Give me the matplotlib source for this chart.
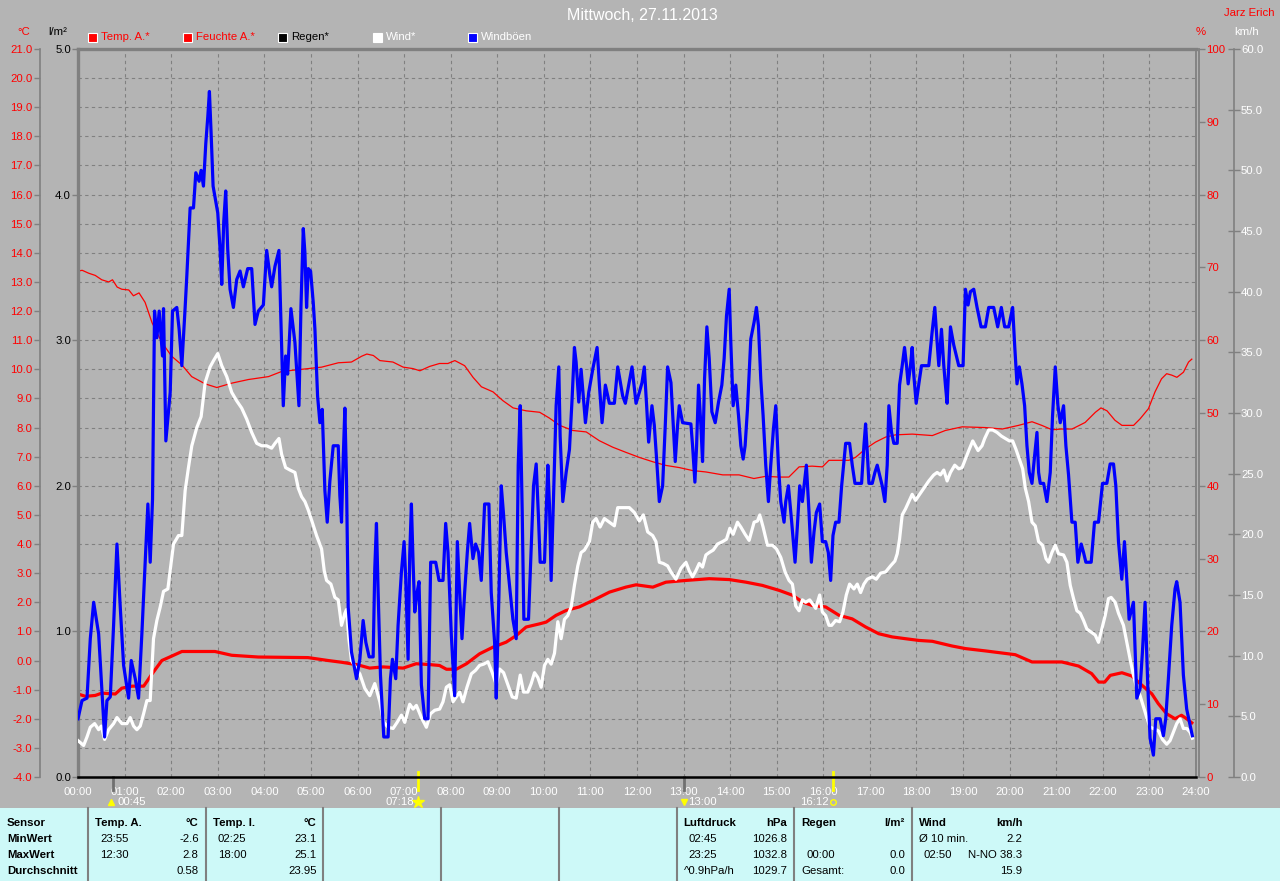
#!/usr/bin/env python3
"""
Weather station day plot (Mittwoch, 27.11.2013) with a statistics table below.
Output: out.png (1280x881)
"""

import matplotlib
matplotlib.use("Agg")
import matplotlib.pyplot as plt
import matplotlib.patches as mpatches
from matplotlib.ticker import FormatStrFormatter

plt.rcParams["font.family"] = ["Liberation Sans", "DejaVu Sans"]

# ── Data (hours of day → values) ─────────────────────────────────────────────
GUST_HOURS = [
    0.000, 0.086, 0.193, 0.264, 0.336, 0.443, 0.514, 0.571, 0.621, 0.693, 0.764, 0.836, 0.907, 0.979,
    1.086, 1.143, 1.229, 1.300, 1.371, 1.443, 1.500, 1.550, 1.600, 1.643, 1.693, 1.743, 1.814, 1.836,
    1.886, 1.979, 2.029, 2.121, 2.171, 2.229, 2.300, 2.336, 2.407, 2.479, 2.529, 2.600, 2.643, 2.693,
    2.743, 2.786, 2.821, 2.857, 2.900, 3.000, 3.050, 3.086, 3.129, 3.171, 3.214, 3.264, 3.336, 3.407,
    3.479, 3.550, 3.643, 3.729, 3.800, 3.871, 3.979, 4.050, 4.121, 4.157, 4.229, 4.314, 4.357, 4.407,
    4.457, 4.500, 4.571, 4.657, 4.743, 4.786, 4.836, 4.871, 4.907, 4.943, 4.993, 5.050, 5.086, 5.143,
    5.193, 5.243, 5.300, 5.350, 5.407, 5.479, 5.586, 5.621, 5.657, 5.693, 5.729, 5.764, 5.800, 5.871,
    5.979,
    6.050, 6.121, 6.179, 6.250, 6.336, 6.371, 6.407, 6.443, 6.493, 6.564, 6.657, 6.707, 6.750, 6.821,
    6.871, 6.943, 7.000, 7.036, 7.086, 7.121, 7.157, 7.193, 7.229, 7.279, 7.321, 7.371, 7.443, 7.514,
    7.571, 7.679, 7.750, 7.836, 7.893, 7.943, 8.014, 8.086, 8.143, 8.193, 8.243, 8.300, 8.357, 8.407,
    8.479, 8.536, 8.600, 8.657, 8.729, 8.821, 8.871, 8.943, 8.979, 9.036, 9.086, 9.136, 9.193, 9.264,
    9.336, 9.407, 9.450, 9.493, 9.536, 9.571, 9.671, 9.729, 9.779, 9.836, 9.886, 9.921, 10.014, 10.086,
    10.121, 10.157, 10.207, 10.264, 10.321, 10.350, 10.407, 10.479, 10.550, 10.607, 10.657, 10.693,
    10.750, 10.800, 10.893, 10.964, 11.050, 11.143, 11.193, 11.250, 11.321, 11.407, 11.514, 11.586,
    11.693, 11.750, 11.893, 11.979,
    12.050, 12.107, 12.157, 12.207, 12.250, 12.321, 12.371, 12.421, 12.479, 12.550, 12.607, 12.657,
    12.729, 12.779, 12.821, 12.871, 12.907, 12.979, 13.157, 13.193, 13.243, 13.279, 13.321, 13.371,
    13.407, 13.450, 13.500, 13.550, 13.607, 13.679, 13.750, 13.821, 13.871, 13.921, 13.979, 14.014,
    14.064, 14.121, 14.179, 14.229, 14.279, 14.321, 14.371, 14.443, 14.514, 14.564, 14.607, 14.657,
    14.707, 14.764, 14.821, 14.871, 14.929, 14.979, 15.036, 15.086, 15.157, 15.193, 15.250, 15.321,
    15.393, 15.443, 15.493, 15.550, 15.586, 15.636, 15.693, 15.743, 15.800, 15.850, 15.921, 15.979,
    16.050, 16.107, 16.157, 16.207, 16.264, 16.336, 16.393, 16.479, 16.564, 16.621, 16.679, 16.821,
    16.871, 16.907, 16.943, 16.979, 17.050, 17.107, 17.157, 17.207, 17.264, 17.321, 17.371, 17.407,
    17.464, 17.514, 17.586, 17.636, 17.693, 17.743, 17.786, 17.821, 17.871, 17.907, 17.943, 17.993,
    18.050, 18.107, 18.264, 18.336, 18.393, 18.443, 18.479, 18.536, 18.586, 18.621, 18.657, 18.729,
    18.800, 18.907, 19.000, 19.050, 19.107, 19.157, 19.229, 19.300, 19.386, 19.479, 19.550, 19.657,
    19.743, 19.821, 19.893, 19.979, 20.064, 20.107, 20.157, 20.207, 20.264, 20.321, 20.371, 20.421,
    20.479, 20.536, 20.586, 20.621, 20.657, 20.729, 20.800, 20.871, 20.921, 20.979, 21.036, 21.086,
    21.157, 21.207, 21.264, 21.336, 21.407, 21.464, 21.536, 21.586, 21.636, 21.750, 21.821, 21.907,
    21.993, 22.086, 22.157, 22.229, 22.279, 22.336, 22.407, 22.464, 22.514, 22.564, 22.657, 22.729,
    22.800, 22.850, 22.907, 22.964, 23.014, 23.086, 23.136, 23.229, 23.300, 23.350, 23.407, 23.479,
    23.550, 23.586, 23.657, 23.729, 23.800, 23.871, 23.921,
]
GUST_KMH = [
    4.8, 6.3, 6.5, 11.4, 14.4, 11.8, 7.0, 3.3, 6.3, 6.6, 12.5, 19.2, 14.0, 9.2,
    6.5, 9.6, 8.1, 6.5, 11.8, 17.7, 22.5, 17.7, 22.9, 38.4, 36.2, 38.4, 34.7, 38.6,
    27.7, 31.7, 38.4, 38.7, 36.9, 33.9, 38.7, 41.3, 46.9, 46.9, 49.8, 49.1, 50.0, 48.7,
    52.2, 54.4, 56.5, 53.1, 48.7, 46.5, 43.5, 40.6, 45.8, 48.3, 43.5, 40.2, 38.7, 41.0,
    41.7, 40.4, 41.9, 41.9, 37.3, 38.4, 38.9, 43.4, 41.3, 40.4, 42.1, 43.4, 37.6, 30.6,
    34.7, 33.2, 38.6, 35.8, 30.6, 38.7, 45.2, 43.2, 38.7, 41.9, 41.7, 39.1, 36.9, 31.4,
    29.2, 30.3, 23.6, 21.0, 24.4, 27.3, 27.3, 23.2, 21.0, 26.2, 30.4, 24.4, 14.0, 10.3,
    8.1,
    9.7, 12.9, 11.1, 9.9, 9.9, 17.2, 20.9, 15.2, 8.4, 3.3, 3.3, 8.1, 9.7, 8.1,
    12.5, 16.9, 19.4, 16.3, 9.7, 18.3, 22.5, 17.7, 13.6, 15.2, 16.1, 7.6, 4.8, 4.8,
    17.7, 17.7, 16.2, 16.2, 20.9, 18.5, 11.7, 6.7, 19.4, 15.2, 11.4, 15.2, 18.5, 20.9,
    18.0, 19.2, 18.5, 16.2, 22.5, 22.5, 15.2, 11.1, 6.5, 15.0, 24.0, 21.6, 18.5, 15.8,
    13.0, 11.4, 25.7, 30.6, 21.8, 13.0, 13.0, 18.8, 24.0, 25.8, 21.3, 17.7, 17.7, 25.7,
    22.4, 16.2, 22.9, 30.6, 33.8, 28.1, 22.7, 25.1, 27.0, 31.2, 35.4, 34.2,
    30.9, 33.6, 29.2, 31.7, 33.6, 35.4, 32.3, 29.2, 32.3, 30.8, 30.8, 33.8,
    31.4, 30.8, 33.8, 30.8,
    31.7, 32.5, 33.8, 30.6, 27.6, 30.6, 29.0, 26.2, 22.7, 24.0, 29.0, 33.8,
    32.5, 29.0, 26.0, 29.0, 30.6, 29.2, 29.1, 27.3, 24.3, 27.3, 32.3, 29.0,
    26.0, 32.8, 37.1, 34.5, 30.1, 29.2, 30.9, 32.3, 34.5, 38.0, 40.2, 35.8,
    30.6, 32.3, 29.8, 27.3, 26.2, 27.3, 30.3, 36.1, 37.5, 38.7, 37.2, 32.8,
    29.8, 25.7, 22.7, 25.7, 28.7, 30.6, 25.7, 22.7, 21.0, 22.7, 24.0, 21.0,
    17.7, 20.7, 24.0, 22.7, 24.0, 25.7, 21.8, 17.7, 20.2, 21.8, 22.5, 19.4,
    19.4, 18.5, 16.2, 19.9, 21.0, 21.0, 24.0, 27.5, 27.5, 25.7, 24.2, 24.2,
    27.3, 29.1, 26.8, 24.2, 24.2, 25.1, 25.7, 24.9, 24.0, 22.7, 25.7, 30.6,
    28.4, 27.5, 27.5, 32.3, 33.9, 35.4, 33.9, 32.4, 33.9, 35.4, 33.1, 30.8,
    32.4, 33.9, 33.9, 36.7, 38.7, 35.8, 33.9, 36.9, 33.9, 32.3, 30.8, 37.1,
    35.6, 33.9, 33.9, 40.2, 38.9, 40.0, 40.2, 38.7, 37.1, 37.1, 38.7, 38.7,
    37.1, 38.7, 37.1, 37.1, 38.7, 35.6, 32.4, 33.8, 32.4, 30.6, 27.3, 25.1,
    24.2, 26.5, 28.4, 25.1, 24.2, 24.2, 22.7, 25.1, 29.8, 33.8, 30.6, 29.2,
    30.6, 27.3, 24.9, 21.0, 21.0, 17.7, 19.2, 18.5, 17.7, 17.7, 21.0, 21.0,
    24.2, 24.2, 25.8, 25.8, 24.0, 19.4, 16.3, 19.4, 16.3, 13.0, 14.4, 6.5,
    7.3, 10.3, 14.4, 7.6, 3.2, 1.8, 4.8, 4.8, 3.4, 4.8, 8.1, 12.5,
    15.5, 16.1, 14.4, 8.4, 5.6, 4.3, 3.4,
]

WIND_HOURS = [
    0.000, 0.121, 0.193, 0.264, 0.357, 0.443, 0.500, 0.571, 0.657, 0.764, 0.836, 0.943, 1.050, 1.121,
    1.193, 1.264, 1.336, 1.407, 1.479, 1.550, 1.621, 1.693, 1.764, 1.836, 1.929, 1.979, 2.050, 2.157,
    2.229, 2.300, 2.371, 2.443, 2.550, 2.643, 2.729, 2.836, 2.907, 3.000, 3.086, 3.193, 3.300, 3.407,
    3.514, 3.621, 3.729, 3.836, 3.943, 4.050, 4.157, 4.229, 4.314, 4.371, 4.457, 4.550, 4.657, 4.729,
    4.800, 4.871, 4.943, 5.029, 5.121, 5.229, 5.286, 5.336, 5.429, 5.514, 5.586, 5.657, 5.729, 5.764,
    5.814, 5.871, 5.979,
    6.050, 6.157, 6.264, 6.371, 6.479, 6.564, 6.657, 6.764, 6.850, 6.943, 7.014, 7.121, 7.193, 7.264,
    7.371, 7.479, 7.564, 7.657, 7.764, 7.836, 7.907, 7.979, 8.050, 8.121, 8.193, 8.264, 8.350, 8.443,
    8.536, 8.621, 8.707, 8.800, 8.893, 8.979, 9.050, 9.136, 9.229, 9.321, 9.407, 9.493, 9.564, 9.657,
    9.729, 9.800, 9.871, 9.943, 10.014, 10.086, 10.157, 10.229, 10.300, 10.371, 10.443, 10.514,
    10.586, 10.657, 10.729, 10.800, 10.871, 10.979, 11.050, 11.121, 11.207, 11.300, 11.407, 11.514,
    11.586, 11.693, 11.836, 11.943,
    12.050, 12.136, 12.229, 12.336, 12.407, 12.479, 12.564, 12.657, 12.729, 12.836, 12.943, 13.050,
    13.121, 13.193, 13.264, 13.336, 13.407, 13.479, 13.550, 13.636, 13.729, 13.836, 13.921, 13.993,
    14.064, 14.157, 14.229, 14.321, 14.407, 14.514, 14.586, 14.636, 14.707, 14.800, 14.907, 14.993,
    15.086, 15.179, 15.264, 15.336, 15.407, 15.479, 15.550, 15.621, 15.707, 15.764, 15.836, 15.921,
    15.979, 16.050, 16.121, 16.179, 16.264, 16.350, 16.421, 16.493, 16.564, 16.657, 16.729, 16.800,
    16.871, 16.943, 17.050, 17.136, 17.229, 17.336, 17.443, 17.536, 17.586, 17.636, 17.693, 17.764,
    17.836, 17.907, 17.979,
    18.050, 18.157, 18.264, 18.371, 18.443, 18.514, 18.586, 18.657, 18.729, 18.821, 18.907, 18.979,
    19.050, 19.121, 19.207, 19.264, 19.321, 19.407, 19.464, 19.550, 19.636, 19.729, 19.821, 19.907,
    19.993, 20.064, 20.136, 20.207, 20.279, 20.336, 20.407, 20.479, 20.550, 20.621, 20.707, 20.779,
    20.836, 20.907, 20.979, 21.050, 21.157, 21.229, 21.300, 21.371, 21.443, 21.514, 21.586, 21.657,
    21.764, 21.836, 21.907, 21.979, 22.050, 22.121, 22.179, 22.264, 22.336, 22.443, 22.514, 22.586,
    22.657, 22.729, 22.800, 22.871, 22.943, 23.014, 23.086, 23.193, 23.279, 23.371, 23.443, 23.514,
    23.586, 23.657, 23.729, 23.800, 23.871, 23.921,
]
WIND_KMH = [
    3.0, 2.6, 3.3, 4.1, 4.4, 3.9, 4.2, 3.1, 3.9, 4.4, 4.9, 4.4, 4.4, 4.9,
    4.2, 3.9, 4.2, 5.2, 6.3, 6.3, 11.4, 12.9, 14.0, 15.3, 15.5, 17.0, 19.2, 19.9,
    19.9, 23.6, 25.5, 27.3, 28.8, 29.7, 32.5, 33.8, 34.3, 34.9, 33.9, 33.0, 31.7, 31.0,
    30.4, 29.5, 28.4, 27.5, 27.3, 27.3, 27.1, 27.5, 27.9, 26.6, 25.5, 25.3, 25.1, 23.8,
    23.1, 22.7, 22.0, 21.0, 19.9, 18.8, 17.0, 16.2, 15.9, 14.8, 14.6, 12.5, 13.5, 13.8,
    11.4, 9.6, 8.9,
    8.5, 7.3, 6.7, 7.7, 6.2, 4.5, 4.1, 4.0, 4.5, 5.1, 4.5, 6.0, 5.6, 5.9,
    4.9, 4.1, 5.2, 5.5, 5.6, 6.2, 7.4, 7.6, 6.2, 6.6, 7.0, 6.2, 7.4, 8.5,
    8.8, 9.2, 9.3, 9.5, 8.6, 7.6, 8.9, 8.6, 7.6, 6.6, 6.5, 8.4, 7.0, 7.0,
    7.7, 8.6, 8.2, 7.4, 9.2, 9.7, 9.3, 10.2, 12.8, 11.4, 13.0, 13.3,
    14.0, 15.8, 17.4, 18.5, 18.7, 19.4, 21.0, 21.3, 20.6, 21.3, 21.0, 20.7,
    22.2, 22.2, 22.2, 21.8,
    21.1, 21.6, 20.2, 19.9, 19.4, 17.7, 17.6, 17.4, 16.9, 16.3, 17.2, 17.7,
    17.0, 16.5, 17.0, 17.6, 17.3, 18.3, 18.5, 18.7, 19.2, 19.4, 19.6, 20.5,
    20.0, 21.0, 20.6, 20.0, 19.5, 21.0, 21.1, 21.6, 20.6, 19.1, 19.1, 18.8,
    18.1, 16.9, 16.2, 15.9, 14.1, 13.7, 14.6, 14.4, 14.6, 14.3, 13.9, 15.0,
    13.6, 13.3, 12.5, 12.5, 12.9, 12.8, 13.6, 15.0, 15.9, 15.5, 15.9, 15.2,
    15.9, 16.3, 16.5, 16.3, 16.8, 16.9, 17.4, 17.8, 18.4, 19.6, 21.6, 22.1,
    22.7, 23.3, 22.8,
    23.2, 23.8, 24.4, 24.9, 25.1, 24.9, 25.3, 24.4, 25.1, 25.7, 25.4, 25.5,
    26.2, 26.9, 27.7, 27.3, 26.9, 27.3, 27.9, 28.6, 28.6, 28.4, 28.1, 27.9,
    27.7, 27.7, 27.0, 26.2, 25.4, 23.8, 22.7, 21.0, 20.7, 19.4, 19.1, 18.0,
    17.7, 18.5, 19.1, 18.4, 18.3, 17.7, 15.8, 14.7, 13.7, 13.5, 12.9, 12.2,
    11.9, 11.7, 11.1, 12.2, 13.3, 14.7, 14.8, 14.4, 13.5, 12.5, 11.1, 9.7,
    8.4, 7.3, 6.7, 5.8, 4.9, 4.1, 4.0, 3.8, 3.1, 2.7, 3.0, 3.7,
    4.4, 4.8, 4.0, 4.0, 3.7, 3.2,
]

TEMP_HOURS = [
    0.00, 0.16, 0.37, 0.51, 0.80, 0.94, 1.16, 1.41, 1.59, 1.80, 2.01, 2.23, 2.51, 2.94, 3.30, 3.87,
    4.94, 5.37, 5.66, 6.01, 6.26, 6.55, 6.98, 7.26, 7.55, 7.76, 7.91, 8.12, 8.34, 8.62, 8.91, 9.19,
    9.41, 9.62, 9.91, 10.05, 10.26, 10.48, 10.76, 11.05, 11.41, 11.76, 11.98, 12.34, 12.62, 13.05,
    13.55, 13.98, 14.34, 14.69, 15.05, 15.34, 15.55, 15.76, 16.05, 16.34, 16.62, 16.91, 17.19, 17.48,
    17.76, 18.05, 18.34, 18.76, 19.05, 19.48, 20.12, 20.48, 20.76, 21.12, 21.48, 21.76, 21.91, 22.04,
    22.16, 22.41, 22.62, 22.84, 23.05, 23.19, 23.37, 23.55, 23.69, 23.80, 23.91,
]
TEMP_C = [
    -1.15, -1.23, -1.20, -1.12, -1.15, -0.95, -0.88, -0.88, -0.46, 0.00, 0.15, 0.31, 0.31, 0.31, 0.18, 0.12,
    0.10, 0.00, -0.06, -0.15, -0.26, -0.22, -0.26, -0.11, -0.14, -0.17, -0.30, -0.30, -0.11, 0.23, 0.46, 0.63,
    0.86, 1.15, 1.26, 1.32, 1.55, 1.72, 1.84, 2.06, 2.35, 2.52, 2.60, 2.52, 2.69, 2.75,
    2.81, 2.78, 2.69, 2.58, 2.41, 2.24, 2.01, 1.89, 1.84, 1.55, 1.43, 1.15, 0.92, 0.81,
    0.75, 0.69, 0.66, 0.50, 0.41, 0.33, 0.20, -0.05, -0.05, -0.05, -0.19, -0.45, -0.74, -0.74,
    -0.51, -0.42, -0.53, -0.85, -1.14, -1.48, -1.83, -2.00, -1.88, -2.00, -2.14,
]

HUM_HOURS = [
    0.00, 0.09, 0.23, 0.37, 0.51, 0.66, 0.74, 0.84, 0.94, 1.09, 1.19, 1.31, 1.44, 1.59, 1.80, 2.01,
    2.23, 2.44, 2.73, 2.98, 3.30, 3.66, 4.09, 4.37, 4.80, 5.23, 5.59, 5.87, 6.09, 6.20, 6.34, 6.48,
    6.76, 6.98, 7.19, 7.34, 7.55, 7.76, 7.94, 8.09, 8.30, 8.48, 8.66, 8.91, 9.12, 9.34, 9.62, 9.91,
    10.12, 10.34, 10.62, 10.91, 11.19, 11.48, 11.76, 12.05, 12.34, 12.62, 12.91, 13.19, 13.48, 13.84,
    14.19, 14.51, 14.76, 15.05, 15.26, 15.48, 15.76, 15.98, 16.12, 16.34, 16.55, 16.69, 16.91, 17.12,
    17.34, 17.55, 17.91, 18.34, 18.62, 18.98, 19.48, 19.84, 20.19, 20.48, 20.69, 20.91, 21.12, 21.34,
    21.62, 21.84, 21.96, 22.09, 22.26, 22.41, 22.66, 22.80, 22.98, 23.12, 23.26, 23.37, 23.48, 23.59,
    23.73, 23.84, 23.91,
]
HUM_PCT = [
    69.5, 69.6, 69.2, 68.9, 68.3, 68.0, 68.3, 67.3, 67.0, 66.9, 66.1, 66.5, 65.2, 62.4, 59.7, 57.8,
    56.6, 55.0, 54.0, 53.5, 54.1, 54.6, 55.0, 55.7, 56.0, 56.3, 56.9, 57.0, 57.8, 58.1, 57.9, 57.2,
    57.0, 56.3, 56.1, 55.8, 56.4, 56.8, 56.8, 57.2, 56.5, 54.9, 53.6, 52.9, 51.7, 50.7, 50.3, 50.1,
    49.3, 48.3, 47.6, 47.4, 46.2, 45.3, 44.6, 43.9, 43.3, 42.8, 42.5, 42.1, 41.9, 41.5,
    41.5, 41.0, 41.3, 41.2, 41.2, 42.6, 42.7, 42.6, 43.5, 43.5, 43.5, 43.9, 45.1, 46.0,
    46.7, 47.0, 47.1, 46.9, 47.6, 48.1, 48.0, 47.8, 48.3, 48.8, 48.3, 47.7, 47.8, 47.8,
    48.7, 50.1, 50.7, 50.3, 49.0, 48.3, 48.3, 49.2, 50.6, 52.9, 54.7, 55.4, 55.2, 54.9,
    55.6, 57.0, 57.4,
]

RAIN_HOURS = [0.0, 24.0]
RAIN_MM = [0.0, 0.0]

HOUR_LABELS = [f"{h:02d}:00" for h in range(25)]
EVENT_HOURS = [0.75, 7.3, 13.0, 16.2]
EVENT_LABELS = ["00:45", "07:18", "13:00", "16:12"]

LEGEND_LABELS = ["Temp. A.*", "Feuchte A.*", "Regen*", "Wind*", "Windböen"]

TABLE_ROW_LABELS = ["Sensor", "MinWert", "MaxWert", "Durchschnitt"]
TABLE_BLOCKS = [
    # (column index, header, unit, [(time, value) per row])
    (0, "Temp. A.", "°C", [("23:55", "-2.6"), ("12:30", "2.8"), ("", "0.58")]),
    (1, "Temp. I.", "°C", [("02:25", "23.1"), ("18:00", "25.1"), ("", "23.95")]),
    (5, "Luftdruck", "hPa", [(" 02:45", "1026.8"), (" 23:25", "1032.8"), ("^0.9hPa/h", "1029.7")]),
    (6, "Regen", "l/m²", [("", ""), ("  00:00", "0.0"), ("Gesamt:", "0.0")]),
    (7, "Wind", "km/h", [("Ø 10 min.", "2.2"), ("  02:50", "N-NO 38.3"), ("", "15.9")]),
]

# ── Style ─────────────────────────────────────────────────────────────────────
W, H = 1280, 881
BG = "#B4B4B4"
GRID = "#808080"
CYAN = "#CDF9F8"
RED = "#FF0000"
BLUE = "#0000FF"
FS = 8.2


def fx(x):
    return x / W


def fy(y):
    return 1 - y / H


fig = plt.figure(figsize=(W / 100, H / 100), dpi=100, facecolor=BG)

L, R, T, B = 78, 1196, 49, 777
ax = fig.add_axes([fx(L), fy(B), (R - L) / W, (B - T) / H])
ax.set_facecolor(BG)
ax.set_xlim(0, 24)
ax.set_ylim(-4, 21)

ax_h = ax.twinx()
ax_r = ax.twinx()
ax_w = ax.twinx()
ax_h.set_ylim(0, 100)
ax_r.set_ylim(0, 5)
ax_w.set_ylim(0, 60)

for a in (ax, ax_h, ax_r, ax_w):
    for s in a.spines.values():
        s.set_visible(False)

# ── Temperature axis (outer left) ─────────────────────────────────────────────
ax.spines["left"].set_visible(True)
ax.spines["left"].set_position(("axes", (40 - L) / (R - L)))
ax.spines["left"].set_color(GRID)
ax.spines["left"].set_linewidth(1.2)
ax.set_yticks(range(-4, 22))
ax.yaxis.set_major_formatter(FormatStrFormatter("%.1f"))
ax.tick_params(axis="y", direction="out", length=4, width=1, color=GRID,
               labelcolor=RED, labelsize=FS, pad=1.5)
ax.set_xticks(range(25))
ax.set_xticklabels(HOUR_LABELS)
ax.tick_params(axis="x", length=0, labelcolor="white", labelsize=FS, pad=7.5)
ax.grid(True, color=GRID, linestyle=(0, (3, 3)), linewidth=0.8)
ax.spines["right"].set_visible(True)
ax.spines["right"].set_color(GRID)
ax.spines["right"].set_linewidth(1.3)

# ── Humidity axis (right) ─────────────────────────────────────────────────────
ax_h.spines["right"].set_visible(True)
ax_h.spines["right"].set_position(("outward", 2.5))
ax_h.spines["right"].set_color(GRID)
ax_h.spines["right"].set_linewidth(1.3)
ax_h.set_yticks(range(0, 101, 10))
ax_h.tick_params(axis="y", direction="out", length=4, width=1, color=GRID,
                 labelcolor=RED, labelsize=FS, pad=1)

# ── Rain axis (inner left, also plot frame) ──────────────────────────────────
ax_r.yaxis.tick_left()
ax_r.yaxis.set_label_position("left")
ax_r.spines["left"].set_visible(True)
ax_r.spines["left"].set_color(GRID)
ax_r.spines["left"].set_linewidth(2.4)
ax_r.spines["top"].set_visible(True)
ax_r.spines["top"].set_color(GRID)
ax_r.spines["top"].set_linewidth(2.4)
ax_r.set_yticks(range(0, 6))
ax_r.yaxis.set_major_formatter(FormatStrFormatter("%.1f"))
ax_r.tick_params(axis="y", direction="out", length=4, width=1, color=GRID,
                 labelcolor="black", labelsize=FS, pad=1)

# ── Wind axis (outer right) ───────────────────────────────────────────────────
ax_w.spines["right"].set_visible(True)
ax_w.spines["right"].set_position(("axes", (1234 - L) / (R - L)))
ax_w.spines["right"].set_color(GRID)
ax_w.spines["right"].set_linewidth(1.2)
ax_w.set_yticks(range(0, 61, 5))
ax_w.yaxis.set_major_formatter(FormatStrFormatter("%.1f"))
ax_w.tick_params(axis="y", direction="inout", length=8, width=1, color=GRID,
                 labelcolor="white", labelsize=FS, pad=1)

# ── Series ────────────────────────────────────────────────────────────────────
ax_h.plot(HUM_HOURS, HUM_PCT, color=RED, linewidth=0.9, zorder=3)
ax.plot(TEMP_HOURS, TEMP_C, color=RED, linewidth=2.3, zorder=4)
ax_r.plot(RAIN_HOURS, RAIN_MM, color="black", linewidth=1.8, clip_on=False, zorder=5)
ax_w.plot(WIND_HOURS, WIND_KMH, color="white", linewidth=2.3, zorder=3)
ax_w.plot(GUST_HOURS, GUST_KMH, color=BLUE, linewidth=2.3, zorder=4)

# ── Sun / moon markers under the time axis ────────────────────────────────────
xt = ax.get_xaxis_transform()
for i, (h, lab) in enumerate(zip(EVENT_HOURS, EVENT_LABELS)):
    sun = i in (1, 3)
    ax.plot([h, h], [0.007 if sun else 0.0, -0.018], transform=xt, clip_on=False,
            color="#FFFF00" if sun else "#707070", linewidth=2.0, zorder=6)
    if i == 0:
        ax.plot([h - 0.05], [-0.034], transform=xt, marker="^", color="#FFFF00",
                markersize=4, clip_on=False)
        ax.text(h + 0.09, -0.034, lab, transform=xt, color="white", fontsize=FS,
                ha="left", va="center")
    elif i == 1:
        ax.plot([h], [-0.034], transform=xt, marker="*", color="#FFFF00",
                markersize=9, clip_on=False)
        ax.text(h - 0.09, -0.034, lab, transform=xt, color="white", fontsize=FS,
                ha="right", va="center")
    elif i == 2:
        ax.plot([h], [-0.034], transform=xt, marker="v", color="#FFFF00",
                markersize=4, clip_on=False)
        ax.text(h + 0.1, -0.034, lab, transform=xt, color="white", fontsize=FS,
                ha="left", va="center")
    else:
        ax.plot([h], [-0.034], transform=xt, marker="o", markerfacecolor="none",
                markeredgecolor="#FFFF00", markersize=4, clip_on=False)
        ax.text(h - 0.09, -0.034, lab, transform=xt, color="white", fontsize=FS,
                ha="right", va="center")

# ── Header texts and legend ───────────────────────────────────────────────────
fig.text(fx(642), fy(15), "Mittwoch, 27.11.2013", color="white", fontsize=11.5,
         ha="center", va="center")
fig.text(fx(1274), fy(13), "Jarz Erich", color=RED, fontsize=FS, ha="right", va="center")
fig.text(fx(24), fy(32), "°C", color=RED, fontsize=FS, ha="center", va="center")
fig.text(fx(58), fy(32), "l/m²", color="black", fontsize=FS, ha="center", va="center")
fig.text(fx(1201), fy(32), "%", color=RED, fontsize=FS, ha="center", va="center")
fig.text(fx(1247), fy(32), "km/h", color="white", fontsize=FS, ha="center", va="center")

leg_colors = [RED, RED, "black", "white", BLUE]
leg_text_colors = [RED, RED, "black", "white", "white"]
for k, (lab, c, tc) in enumerate(zip(LEGEND_LABELS, leg_colors, leg_text_colors)):
    x0 = 88 + k * 95
    fig.patches.append(mpatches.Rectangle((fx(x0), fy(42)), 9 / W, 9 / H,
                                          transform=fig.transFigure, facecolor=c,
                                          edgecolor="white", linewidth=0.8))
    fig.text(fx(x0 + 13), fy(37), lab, color=tc, fontsize=FS, ha="left", va="center")

# ── Statistics table ──────────────────────────────────────────────────────────
fig.patches.append(mpatches.Rectangle((0, 0), 1, fy(808), transform=fig.transFigure,
                                      facecolor=CYAN, edgecolor="none"))
SEP = [88 + 117.7 * k for k in range(8)]
for xs in SEP:
    fig.add_artist(plt.Line2D([fx(xs), fx(xs)], [0, fy(808)], color=GRID, linewidth=1.5))

ROW_Y = [823, 839, 855, 871]
for lab, y in zip(TABLE_ROW_LABELS, ROW_Y):
    fig.text(fx(7), fy(y), lab, fontsize=FS, fontweight="bold", ha="left", va="center")

for col, head, unit, rows in TABLE_BLOCKS:
    x_l = SEP[col] + 7
    x_r = SEP[col] + 117.7 - 7
    fig.text(fx(x_l), fy(ROW_Y[0]), head, fontsize=FS, fontweight="bold", ha="left", va="center")
    fig.text(fx(x_r), fy(ROW_Y[0]), unit, fontsize=FS, fontweight="bold", ha="right", va="center")
    for (t, v), y in zip(rows, ROW_Y[1:]):
        indent = 0 if (t.startswith("^") or t.startswith("Ø") or t.startswith("G")) else 5
        fig.text(fx(x_l + indent), fy(y), t.strip(), fontsize=FS, ha="left", va="center")
        fig.text(fx(x_r), fy(y), v, fontsize=FS, ha="right", va="center")

fig.savefig("out.png", dpi=100, facecolor=BG)
